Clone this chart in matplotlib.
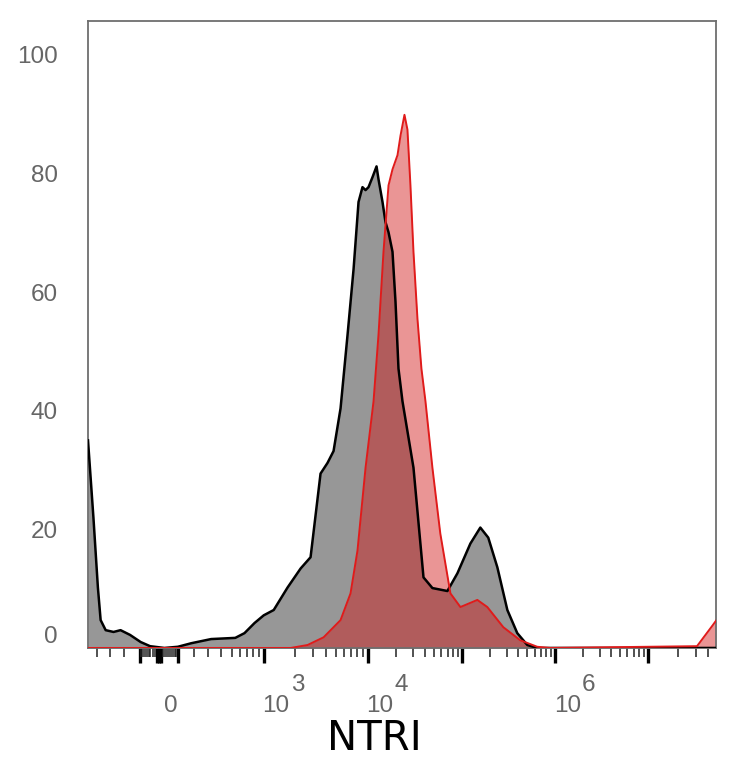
import numpy as np
import matplotlib
matplotlib.use("Agg")
import matplotlib.pyplot as plt

# histogram data (intensity, % of max)
gray_x = [-480, -430, -392, -369, -330, -271, -221, -156, -95, -42, 26, 100, 181, 323, 540,
          660, 820, 1000, 1250, 1700, 2270, 2830, 3530, 4120, 4710, 5500, 6430, 7340, 8190,
          8940, 9570, 10240, 11290, 12440, 13060, 14380, 15460, 16640, 18330, 19710, 21200,
          23350, 30500, 38900, 48300, 69500, 88700, 121900, 156000, 190000, 238000, 305000,
          390000, 500000, 640000, 4.79e7]
gray_y = [35, 22, 10.2, 4.7, 3.0, 2.7, 3.0, 2.2, 1.0, 0.3, 0, 0.2, 0.8, 1.5, 1.7,
          2.5, 4.2, 5.5, 6.4, 10.2, 13.4, 15.3, 29.4, 31.2, 33.2, 40.4, 52.9, 63.9, 75.2,
          77.7, 77.2, 77.7, 79.4, 81.2, 79.0, 75.2, 71.8, 70.1, 66.8, 58.4, 47.1,
          41.6, 30.4, 11.9, 10.1, 9.6, 12.6, 17.6, 20.3, 18.6, 13.6, 6.4,
          2.5, 0.5, 0, 0]

red_x = [-480, 1820, 2650, 3780, 5500, 6860, 8000, 9570, 11570, 13060, 14730, 16640, 18330,
         20700, 22270, 24510, 26350, 28340, 30500, 33600, 37000, 40800, 48300, 58500, 74800,
         95300, 144900, 185600, 276000, 420000, 640000, 883000, 3.09e7, 4.47e7, 4.79e7]
red_y = [0, 0, 0.5, 1.8, 4.7, 9.2, 16.4, 30.4, 41.6, 52.9, 66.8, 78.0, 80.7,
         83.1, 86.4, 89.9, 87.4, 78.0, 66.8, 55.5, 47.1, 41.6, 30.4, 19.3, 9.2,
         6.9, 8.1, 6.9, 3.5, 1.3, 0.2, 0, 0.3, 3.9, 4.6]

y_ticks = [20, 40, 60, 80, 100]
x_labels = [(0, "0", None), (1e3, "10", "3"), (1e4, "10", "4"), (1e6, "10", "6")]
x_title = "NTRI"

# biexponential-like axis: piecewise in asinh space
knot_abs = np.array([0, 100, 200, 300, 400, 500, 1e3, 1e4, 1e5, 1e6, 1e7, 1e8, 1e9])
knot_pos = np.array([0, 19, 35, 49, 62, 73, 105, 209, 304, 397, 490, 590, 690], dtype=float)
KU = np.concatenate([-np.arcsinh(knot_abs[:0:-1] / 100), np.arcsinh(knot_abs / 100)])
KP = np.concatenate([-knot_pos[:0:-1], knot_pos])


def fwd(x):
    return np.interp(np.arcsinh(np.asarray(x, dtype=float) / 100), KU, KP)


def inv(p):
    return 100 * np.sinh(np.interp(np.asarray(p, dtype=float), KP, KU))


fig = plt.figure(figsize=(7.34, 7.68), dpi=100)
ax = fig.add_axes([0.1199, 0.1563, 0.8556, 0.8170])
ax.set_xscale("function", functions=(fwd, inv))

ax.fill_between(gray_x, gray_y, 0, color="#979797", lw=0, zorder=1)
ax.fill_between(red_x, red_y, 0, color=(0.82, 0.08, 0.08), alpha=0.45, lw=0, zorder=2)
ax.plot(gray_x, gray_y, color="black", lw=1.8, zorder=3, solid_joinstyle="round")
ax.plot(red_x, red_y, color="#e01b1b", lw=1.4, zorder=4, solid_joinstyle="round")

ax.set_xlim(-480, 4.79e7)
ax.set_ylim(0, 105.8)

# ticks
majors = [-100, -10, 0, 10, 100, 1e3, 1e4, 1e5, 1e6, 1e7]
minors = []
for dec in [10, 100, 1e3, 1e4, 1e5, 1e6, 1e7]:
    for k in range(2, 10):
        minors.append(k * dec)
        if dec <= 100:
            minors.append(-k * dec)
minors = [m for m in minors if -480 < m < 4.79e7]
ax.set_xticks(majors)
ax.set_xticks(minors, minor=True)
ax.tick_params(axis="x", which="major", direction="out", length=11, width=2.4, color="black")
ax.tick_params(axis="x", which="minor", direction="out", length=6.5, width=1.1, color="#222222")
ax.tick_params(axis="x", which="both", labelbottom=False)

ax.set_yticks(y_ticks)
ax.set_yticklabels([str(v) for v in y_ticks], fontsize=17.5, color="#666666",
                   family="Liberation Sans")
ax.tick_params(axis="y", length=0, pad=21.6)
ax.annotate("0", xy=(0, 0), xycoords="axes fraction", xytext=(-30, 11),
            textcoords="offset pixels", ha="right", va="center",
            fontsize=17.5, color="#666666", family="Liberation Sans")

for val, base, expo in x_labels:
    ax.annotate(base, xy=(val, 0), xycoords=("data", "axes fraction"), xytext=(12, -58),
                textcoords="offset pixels", ha="center", va="center",
                fontsize=17.5, color="#666666", family="Liberation Sans")
    if expo:
        ax.annotate(expo, xy=(val, 0), xycoords=("data", "axes fraction"), xytext=(27, -37),
                    textcoords="offset pixels", ha="left", va="center",
                    fontsize=17.5, color="#666666", family="Liberation Sans")

fig.text(374 / 734, 1 - 739 / 768, x_title, ha="center", va="center", fontsize=29,
         color="black", family="DejaVu Sans")

for sp in ax.spines.values():
    sp.set_color("#6e6e6e")
    sp.set_linewidth(1.3)

fig.savefig("out.png", dpi=100)
